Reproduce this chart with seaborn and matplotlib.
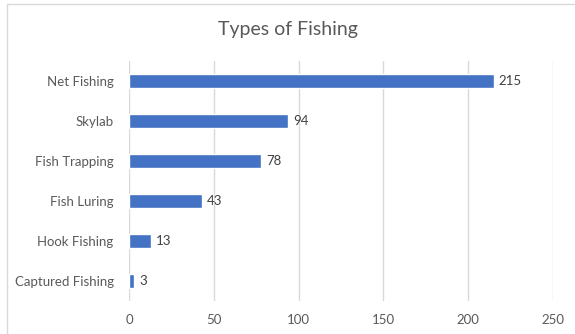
import matplotlib
matplotlib.use("Agg")
import matplotlib.pyplot as plt
import seaborn as sns
import pandas as pd
from matplotlib.lines import Line2D

categories = ["Net Fishing", "Skylab", "Fish Trapping", "Fish Luring", "Hook Fishing", "Captured Fishing"]
values = [215, 94, 78, 43, 13, 3]
x_ticks = [0, 50, 100, 150, 200, 250]

df = pd.DataFrame({"category": categories, "value": values})

sns.set_theme(style="white")
plt.rcParams['font.family'] = ['Lato', 'DejaVu Sans']

fig = plt.figure(figsize=(5.75, 3.34), dpi=100)
ax = fig.add_axes([129/575, 1 - 301/334, (553 - 129)/575, (301 - 61)/334])

sns.barplot(data=df, x="value", y="category", orient="h", color="#4472C4",
            saturation=1, width=0.36, ax=ax)

ax.set_xlim(0, 250)
ax.set_ylim(5.5, -0.5)
ax.set_xticks(x_ticks)
ax.set_xticklabels([str(t) for t in x_ticks])
ax.xaxis.grid(True, color="#D9D9D9", linewidth=1)
ax.yaxis.grid(False)
ax.set_axisbelow(True)
for s in ax.spines.values():
    s.set_visible(False)
ax.set_xlabel("")
ax.set_ylabel("")
ax.tick_params(axis="x", colors="#595959", labelsize=9.5, length=0, pad=9)
ax.tick_params(axis="y", colors="#595959", labelsize=9.5, length=0, pad=11)

for i, v in enumerate(values):
    ax.text(v + 3, i, str(v), va="center", ha="left", fontsize=9.5, color="#404040")

fig.text(0.5, 1 - 30/334, "Types of Fishing", ha="center", va="center",
         fontsize=14, color="#595959")

fig.add_artist(Line2D([7/575, 7/575], [0, 1 - 4/334], transform=fig.transFigure,
                      color="#D9D9D9", linewidth=1))
fig.add_artist(Line2D([7/575, 1], [1 - 4/334, 1 - 4/334], transform=fig.transFigure,
                      color="#D9D9D9", linewidth=1))

fig.savefig("out.png", dpi=100)
